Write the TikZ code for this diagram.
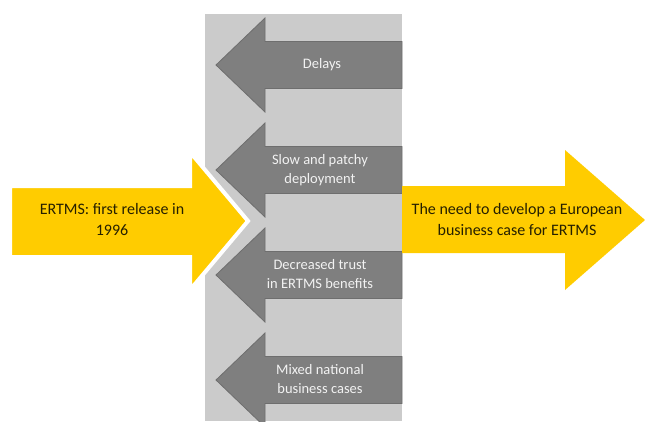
\documentclass[tikz,border=0pt]{standalone}
\usepackage{fontspec}
\setmainfont{Carlito}
\definecolor{bggray}{HTML}{CBCBCB}
\definecolor{arrgray}{HTML}{7F7F7F}
\definecolor{arredge}{HTML}{6E6E6E}
\definecolor{ertyellow}{HTML}{FFCC00}
\definecolor{darktext}{HTML}{262000}
\definecolor{lighttext}{HTML}{F2F2F2}
\tikzset{
  garrow/.style={fill=arrgray, draw=arredge, line width=0.8pt, line join=miter},
  yarrow/.style={fill=ertyellow, draw=white, line width=4pt, line join=miter},
  yarrowplain/.style={fill=ertyellow, draw=none},
  gtext/.style={text=lighttext, align=center, inner sep=0pt, font=\fontsize{14.5}{18.5}\selectfont},
  ytext/.style={text=darktext, align=center, inner sep=0pt, font=\fontsize{16}{21}\selectfont},
  pics/grayarrow/.style={code={
    \draw[garrow] (402,-23.5) -- (265,-23.5) -- (265,-47) -- (216,0) -- (265,47) -- (265,23.5) -- (402,23.5) -- cycle;
  }}
}
\begin{document}
\begin{tikzpicture}[x=1pt,y=-1pt]
\useasboundingbox (0,0) rectangle (645,421);
\begin{scope}
\clip (0,0) rectangle (645,421);
% gray band
\fill[bggray] (205,14) rectangle (402,421);
% gray arrows
\pic at (0,65) {grayarrow};
\pic at (0,170) {grayarrow};
\pic at (0,275) {grayarrow};
\pic at (0,380) {grayarrow};
% left yellow arrow with white outline
\draw[yarrow] (10,186) -- (190,186) -- (190,152) -- (248,221) -- (190,290) -- (190,257) -- (10,257) -- cycle;
% right yellow arrow
\fill[yarrowplain] (402,186) -- (565,186) -- (565,150) -- (645,220) -- (565,290) -- (565,253) -- (402,253) -- cycle;
\end{scope}
% texts
\node[gtext] (delays) at (322,65) {Delays};
\node[gtext] (slow) at (320,170) {Slow and patchy\\deployment};
\node[gtext] (trust) at (320,274) {Decreased trust\\in ERTMS benefits};
\node[gtext] (mixed) at (320,379) {Mixed national\\business cases};
\node[ytext] (ertms) at (112,219) {ERTMS: first release in\\1996};
\node[ytext] (need) at (517,219) {The need to develop a European\\business case for ERTMS};
\end{tikzpicture}
\end{document}
